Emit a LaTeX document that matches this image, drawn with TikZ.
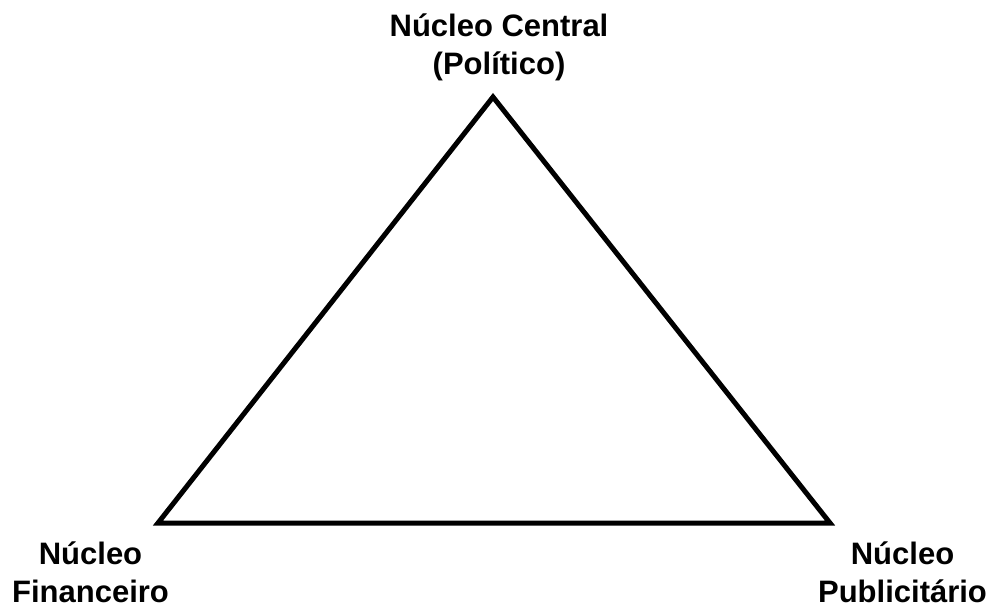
\documentclass[tikz,border=0pt]{standalone}
\usepackage{fontspec}
\setmainfont{Liberation Sans}
\begin{document}
\begin{tikzpicture}[x=1pt,y=-1pt,
  lbl/.style={font=\bfseries\fontsize{31}{38}\selectfont, align=center, inner sep=0pt, anchor=base},
  edge/.style={line width=5pt, line join=miter}]
\useasboundingbox (0,0) rectangle (992,604);
\coordinate (top) at (493,97);
\coordinate (bl) at (158,523);
\coordinate (br) at (830,523);
\draw[edge] (top) -- (bl) -- (br) -- cycle;
\node[lbl] (ltop) at (499,75) {Núcleo Central\\(Político)};
\node[lbl] (lbl) at (90.5,602) {Núcleo\\Financeiro};
\node[lbl] (lbr) at (902.5,602) {Núcleo\\Publicitário};
\end{tikzpicture}
\end{document}
